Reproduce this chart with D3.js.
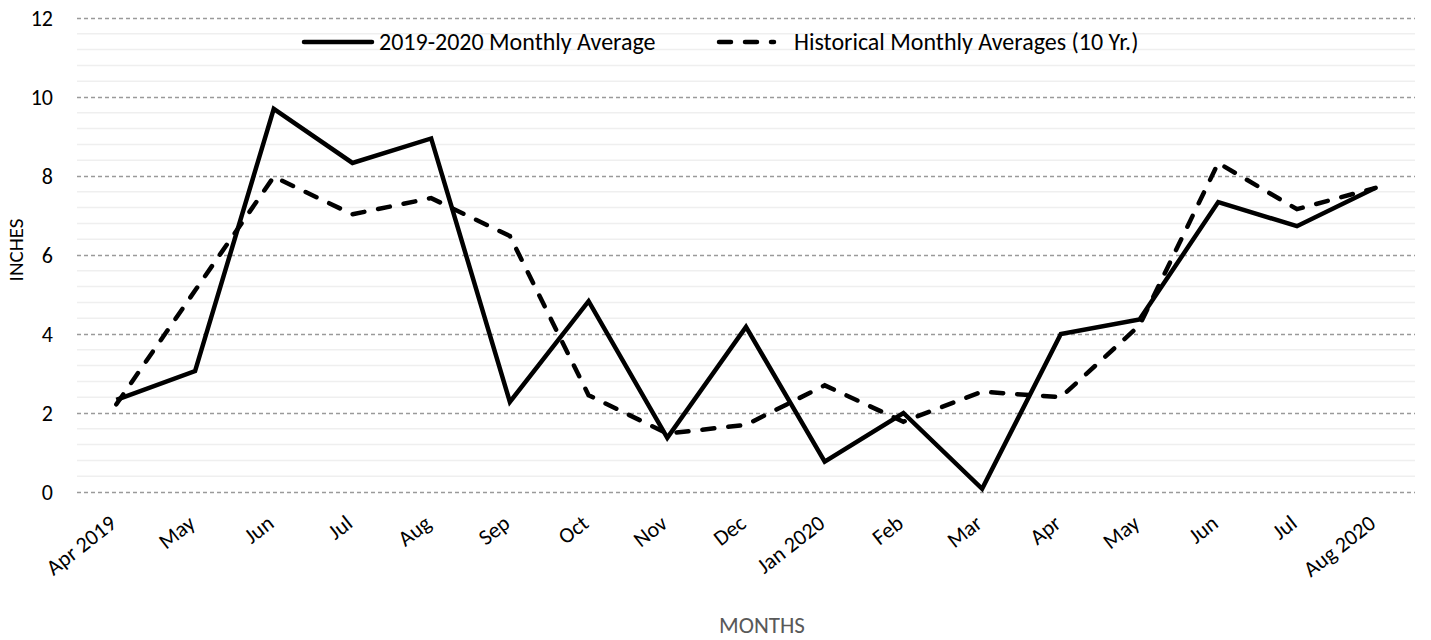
<!DOCTYPE html>
<html>
<head>
<meta charset="utf-8">
<script src="https://cdn.jsdelivr.net/npm/d3@7"></script>
<style>
  html, body { margin: 0; padding: 0; background: #fff; }
  svg { display: block; font-family: Carlito, Calibri, Lato, sans-serif; }
</style>
</head>
<body>
<svg id="chart" width="1431" height="640"></svg>
<script>
const months = ["Apr 2019","May","Jun","Jul","Aug","Sep","Oct","Nov","Dec","Jan 2020","Feb","Mar","Apr","May ","Jun ","Jul ","Aug 2020"];
const monthly2019_2020 = [2.33, 3.06, 9.7, 8.33, 8.95, 2.28, 4.83, 1.37, 4.18, 0.77, 2.0, 0.08, 4.0, 4.37, 7.34, 6.73, 7.7];
const historical10yr = [2.22, 5.1, 7.98, 7.03, 7.44, 6.48, 2.45, 1.48, 1.7, 2.7, 1.78, 2.54, 2.4, 4.22, 8.33, 7.16, 7.7];
const yTicks = [0, 2, 4, 6, 8, 10, 12];
const minorStep = 0.4;
const seriesNames = ["2019-2020 Monthly Average", "Historical Monthly Averages (10 Yr.)"];

const FONT = "Carlito, Calibri, Lato, sans-serif";
const svg = d3.select("#chart");
const mLeft = 77, mRight = 1415, mTop = 18, mBottom = 492;

const x = d3.scalePoint().domain(months).range([mLeft, mRight]).padding(0.5);
const y = d3.scaleLinear().domain([0, 12]).range([mBottom, mTop]);

// minor gridlines
const minorVals = d3.range(0, 12 + 1e-9, minorStep).filter(v => Math.abs(v / 2 - Math.round(v / 2)) > 1e-6);
svg.append("g").selectAll("line").data(minorVals).join("line")
  .attr("x1", mLeft).attr("x2", mRight)
  .attr("y1", d => y(d)).attr("y2", d => y(d))
  .attr("stroke", "#efefef").attr("stroke-width", 1.5);

// major gridlines via axis
const yAxis = svg.append("g").attr("transform", `translate(${mLeft},0)`)
  .call(d3.axisLeft(y).tickValues(yTicks).tickSize(-(mRight - mLeft)).tickPadding(24).tickFormat(d3.format("d")));
yAxis.select(".domain").remove();
yAxis.selectAll(".tick line").attr("stroke", "#9a9a9a").attr("stroke-width", 1.5).attr("stroke-dasharray", "4,3");
yAxis.selectAll(".tick text").attr("font-size", 22).attr("fill", "#000").attr("font-family", FONT);

// x axis labels
const xAxis = svg.append("g").attr("transform", `translate(0,${mBottom})`)
  .call(d3.axisBottom(x).tickSize(0).tickPadding(0));
xAxis.select(".domain").remove();
xAxis.selectAll(".tick text")
  .attr("font-size", 22).attr("fill", "#000").attr("font-family", FONT)
  .attr("text-anchor", "end")
  .attr("dy", "0")
  .attr("y", 0)
  .attr("transform", "translate(1,34) rotate(-38)");

// lines
const line = d3.line().x((d, i) => x(months[i])).y(d => y(d));
svg.append("path").datum(historical10yr)
  .attr("d", line).attr("fill", "none").attr("stroke", "#000")
  .attr("stroke-width", 4.5).attr("stroke-dasharray", "12,14").attr("stroke-linecap", "round");
svg.append("path").datum(monthly2019_2020)
  .attr("d", line).attr("fill", "none").attr("stroke", "#000")
  .attr("stroke-width", 4.5).attr("stroke-linejoin", "miter");

// legend
const lg = svg.append("g");
lg.append("line").attr("x1", 304).attr("x2", 372).attr("y1", 42).attr("y2", 42)
  .attr("stroke", "#000").attr("stroke-width", 4.5).attr("stroke-linecap", "round");
lg.append("text").attr("x", 379).attr("y", 42).attr("dy", "0.35em")
  .attr("font-size", 24).attr("fill", "#000").text(seriesNames[0]);
lg.append("line").attr("x1", 719).attr("x2", 774).attr("y1", 42).attr("y2", 42)
  .attr("stroke", "#000").attr("stroke-width", 4.5).attr("stroke-linecap", "round")
  .attr("stroke-dasharray", "12,14");
lg.append("text").attr("x", 794).attr("y", 42).attr("dy", "0.35em")
  .attr("font-size", 24).attr("fill", "#000").text(seriesNames[1]);

// axis titles
svg.append("text").attr("x", 762).attr("y", 633)
  .attr("text-anchor", "middle").attr("font-size", 23).attr("fill", "#595959").text("MONTHS");
svg.append("text").attr("transform", `translate(23,250) rotate(-90)`)
  .attr("text-anchor", "middle").attr("font-size", 21).attr("fill", "#000").text("INCHES");
</script>
</body>
</html>
